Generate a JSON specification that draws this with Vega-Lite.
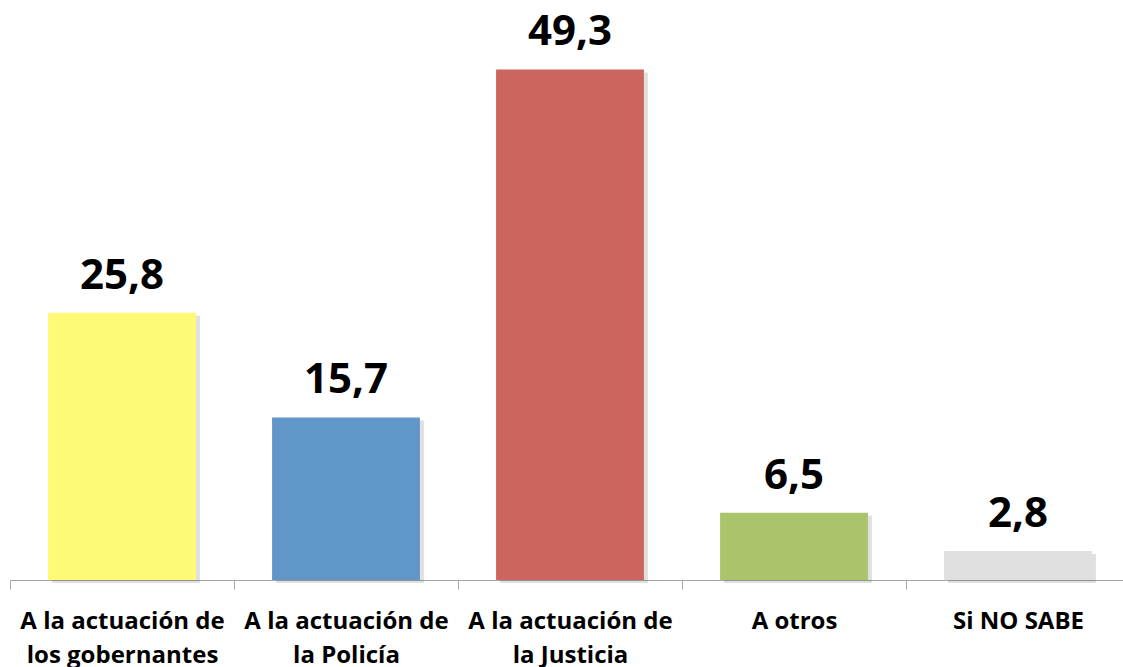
{
  "$schema": "https://vega.github.io/schema/vega-lite/v6.json",
  "width": 1120,
  "height": 580,
  "autosize": {"type": "none"},
  "padding": {"left": 10, "top": 0, "right": 0, "bottom": 87},
  "background": "white",
  "data": {
    "values": [
      {"cat": "A la actuación de|los gobernantes", "value": 25.8, "label": "25,8", "color": "#FFF978"},
      {"cat": "A la actuación de|la Policía", "value": 15.7, "label": "15,7", "color": "#6096C8"},
      {"cat": "A la actuación de|la Justicia", "value": 49.3, "label": "49,3", "color": "#CC6560"},
      {"cat": "A otros", "value": 6.5, "label": "6,5", "color": "#AAC46C"},
      {"cat": "Si NO SABE", "value": 2.8, "label": "2,8", "color": "#E0E0E0"}
    ]
  },
  "encoding": {
    "x": {
      "field": "cat",
      "type": "nominal",
      "sort": null,
      "scale": {"paddingInner": 0.34, "paddingOuter": 0.17},
      "axis": {
        "title": null,
        "labelAngle": 0,
        "labelExpr": "split(datum.value, '|')",
        "labelFont": "Open Sans",
        "labelFontWeight": "bold",
        "labelFontSize": 24,
        "labelLineHeight": 34,
        "labelColor": "#000000",
        "labelPadding": 20,
        "tickSize": 9,
        "tickOffset": -112,
        "labelOffset": 112,
        "domainColor": "#A6A6A6",
        "tickColor": "#A6A6A6",
        "labelLimit": 0,
        "labelOverlap": false
      }
    },
    "y": {
      "field": "value",
      "type": "quantitative",
      "scale": {"domain": [0, 56], "nice": false},
      "axis": null
    }
  },
  "layer": [
    {
      "mark": {"type": "bar", "color": "#000000", "opacity": 0.12, "xOffset": 4, "yOffset": 3},
      "encoding": {}
    },
    {
      "mark": {"type": "bar"},
      "encoding": {"color": {"field": "color", "type": "nominal", "scale": null}}
    },
    {
      "mark": {"type": "text", "font": "Open Sans", "fontWeight": "bold", "fontSize": 42, "baseline": "alphabetic", "dy": -24, "color": "#000000"},
      "encoding": {"text": {"field": "label"}}
    }
  ],
  "config": {"view": {"stroke": null}}
}
